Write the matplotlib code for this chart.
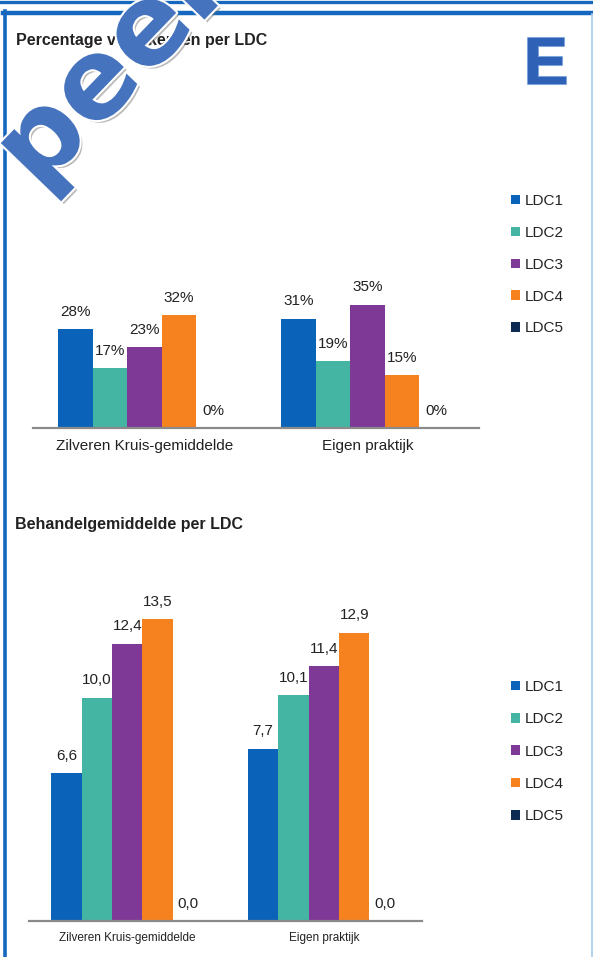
import matplotlib
matplotlib.use("Agg")
import matplotlib.pyplot as plt
import matplotlib.patheffects as pe
from matplotlib.lines import Line2D

plt.rcParams['font.family'] = ['Liberation Sans', 'DejaVu Sans']

# data
categories = ["Zilveren Kruis-gemiddelde", "Eigen praktijk"]
series = ["LDC1", "LDC2", "LDC3", "LDC4", "LDC5"]
colors = ["#0A63B8", "#43B5A2", "#7E3996", "#F5821F", "#0D2B52"]
pct_zk = [28, 17, 23, 32, 0]
pct_eigen = [31, 19, 35, 15, 0]
beh_zk = [6.6, 10.0, 12.4, 13.5, 0.0]
beh_eigen = [7.7, 10.1, 11.4, 12.9, 0.0]

W, H = 593, 957
fig = plt.figure(figsize=(W / 100, H / 100), dpi=100)
txt = "#222222"


def fx(px):
    return px / W


def fy(py):
    return 1 - py / H


def bar_chart(ax, vals_a, vals_b, fmt, ylim, cat_size):
    width = 0.155
    conts = []
    for i, name in enumerate(series):
        off = (i - 2) * width
        vals = [vals_a[i], vals_b[i]]
        bc = ax.bar([c + off for c in range(len(categories))], vals, width,
                    color=colors[i], label=name, linewidth=0)
        conts.append(bc)
        for rect, v in zip(bc, vals):
            ax.annotate(fmt(v), (rect.get_x() + rect.get_width() / 2, v),
                        xytext=(0, 7.5), textcoords="offset points",
                        ha="center", va="bottom", fontsize=11, color=txt)
    ax.set_xlim(-0.5, 1.5)
    ax.set_ylim(*ylim)
    for s in ["top", "right", "left"]:
        ax.spines[s].set_visible(False)
    ax.spines["bottom"].set_color("#8a8a8a")
    ax.spines["bottom"].set_linewidth(1.6)
    ax.set_yticks([])
    ax.set_xticks(range(len(categories)))
    ax.set_xticklabels(categories, fontsize=cat_size, color=txt)
    ax.tick_params(axis="x", length=0, pad=8)
    return conts


def add_legend(ax, conts, top_px, spacing):
    ax.legend(conts, series, loc="upper left",
              bbox_to_anchor=(fx(511), fy(top_px)), bbox_transform=fig.transFigure,
              frameon=False, fontsize=11, handlelength=0.6, handleheight=0.6,
              handletextpad=0.3, labelspacing=spacing, borderpad=0, borderaxespad=0,
              labelcolor=txt)


# chart 1: percentages
ax1 = fig.add_axes([fx(33), fy(428), fx(479 - 33), 50 * 3.52 / H])
c1 = bar_chart(ax1, pct_zk, pct_eigen, lambda v: f"{v:.0f}%", (0, 50), 11)
add_legend(ax1, c1, 194, 1.17)
fig.text(fx(16), fy(40), "Percentage verzekerden per LDC", fontsize=11.5,
         fontweight="bold", color=txt, va="center")

# chart 2: behandelgemiddelde
ax2 = fig.add_axes([fx(29), fy(921), fx(422 - 29), 15 * 22.35 / H])
c2 = bar_chart(ax2, beh_zk, beh_eigen, lambda v: f"{v:.1f}".replace(".", ","), (0, 15), 8.5)
add_legend(ax2, c2, 680, 1.2)
fig.text(fx(15), fy(525), "Behandelgemiddelde per LDC", fontsize=11.5,
         fontweight="bold", color=txt, va="center")

# frame
fig.add_artist(Line2D([0, 1], [fy(1.5), fy(1.5)], color="#1668BF", lw=2.4))
fig.add_artist(Line2D([fx(3), 1], [fy(12.5), fy(12.5)], color="#1668BF", lw=3.2))
fig.add_artist(Line2D([fx(5), fx(5)], [0, fy(11)], color="#1668BF", lw=2.6))
fig.add_artist(Line2D([fx(591.5), fx(591.5)], [0, fy(14)], color="#A8CBEA", lw=1.2))

# "E" badge
fig.text(fx(546), fy(67), "E", fontsize=48, fontweight="bold", color="#2F62B6",
         ha="center", va="center",
         path_effects=[pe.Stroke(linewidth=1.5, foreground="#7EA6DC"), pe.Normal()])

# watermark
fig.text(fx(38), fy(192), "peek", fontsize=80, fontweight="bold", family="DejaVu Sans",
         color="#4673BE", rotation=46, rotation_mode="anchor", ha="left", va="baseline",
         path_effects=[pe.withSimplePatchShadow(offset=(2, -2), shadow_rgbFace="#666666", alpha=0.45),
                       pe.Stroke(linewidth=3, foreground="white"), pe.Normal()])

fig.savefig("out.png", dpi=100)
